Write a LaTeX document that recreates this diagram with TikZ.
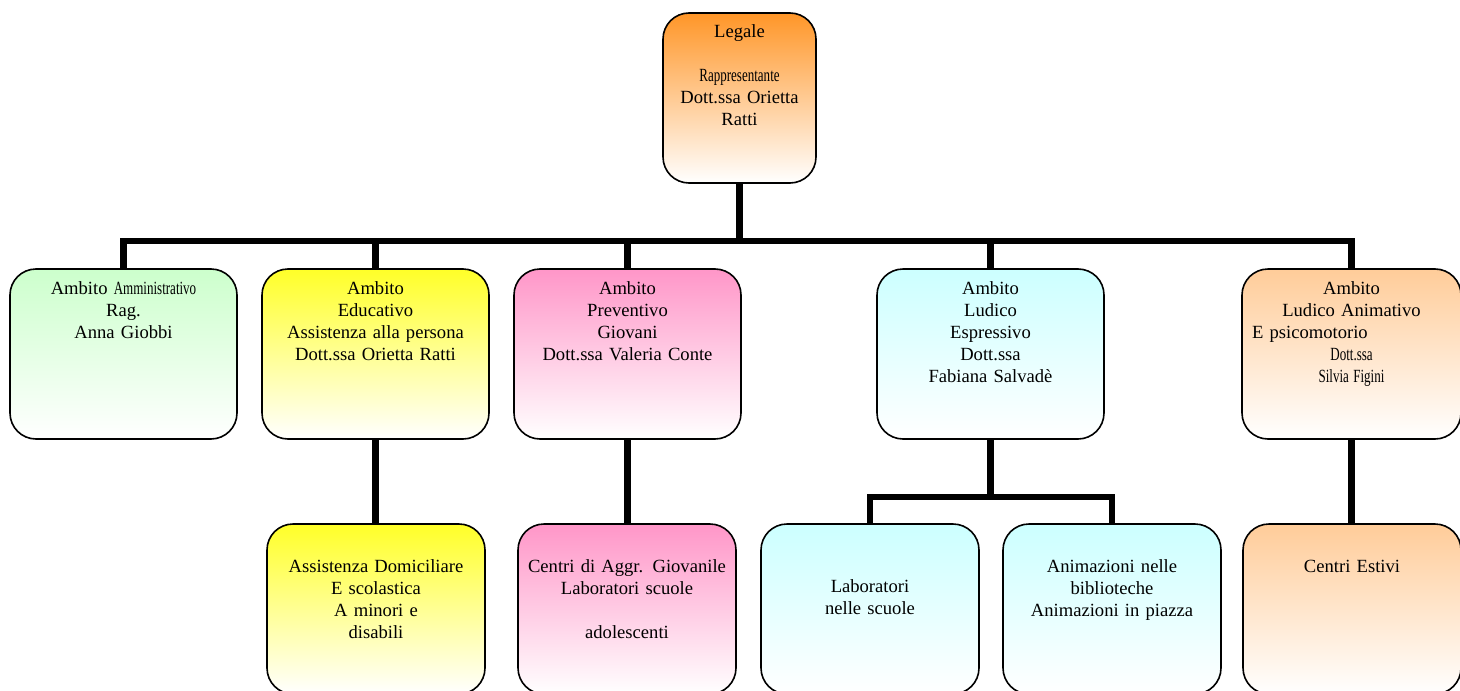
\documentclass[tikz,border=0pt]{standalone}
\usepackage{fontspec}
\setmainfont{Liberation Serif}
\usepackage{graphicx}
\usepackage{tikz}
\usetikzlibrary{positioning, calc}
\definecolor{LegOrange}{RGB}{255, 150, 40}
\definecolor{AmmGreen}{RGB}{204, 255, 204}
\definecolor{EduYellow}{RGB}{255, 255, 40}
\definecolor{PrevPink}{RGB}{255, 150, 200}
\definecolor{LudCyan}{RGB}{204, 255, 255}
\definecolor{AnimPeach}{RGB}{255, 204, 153}
\newcommand{\squeeze}[1]{\scalebox{0.7}[1]{#1}}

\begin{document}
\begin{tikzpicture}[x=0.5pt, y=-0.5pt, font=\fontsize{9.3}{11}\selectfont,
  unit/.style={draw, line width=0.8pt, rounded corners=13pt, align=center,
    inner xsep=3pt, inner ysep=5pt, text width=107.5pt,
    text height=7.5pt, text depth=67.5pt, top color=#1, bottom color=white},
  sub/.style={unit=#1, text width=103pt, text height=19pt, text depth=56pt},
  conn/.style={line width=3.2pt}]
\useasboundingbox (0,0) rectangle (1460,690);
% top
\node[unit=LegOrange, text width=70.5pt] (legale) at (739.5,98)
  {Legale\\[11pt]\squeeze{Rappresentante}\\Dott.ssa Orietta\\Ratti};
% first row
\node[unit=AmmGreen] (amm) at (123.5,354) {Ambito \squeeze{Amministrativo}\\Rag.\\Anna Giobbi};
\node[unit=EduYellow] (edu) at (375.5,354) {Ambito\\Educativo\\Assistenza alla persona\\Dott.ssa Orietta Ratti};
\node[unit=PrevPink] (prev) at (627.5,354) {Ambito\\Preventivo\\Giovani\\Dott.ssa Valeria Conte};
\node[unit=LudCyan] (lud) at (990.5,354) {Ambito\\Ludico\\Espressivo\\Dott.ssa\\Fabiana Salvadè};
\node[unit=AnimPeach, text width=103.5pt] (anim) at (1351.5,354)
  {Ambito\\Ludico Animativo\\\makebox[\linewidth][l]{\hspace*{2pt}E psicomotorio}\\\squeeze{Dott.ssa}\\\squeeze{Silvia Figini}};
% second row
\node[sub=EduYellow] (assist) at (376,609) {Assistenza Domiciliare\\E scolastica\\A minori e\\disabili};
\node[sub=PrevPink] (centri) at (627,609) {Centri di Aggr. Giovanile\\Laboratori scuole\\[11pt]adolescenti};
\node[sub=LudCyan, text height=29pt, text depth=46pt] (labsc) at (870,609) {Laboratori\\nelle scuole};
\node[sub=LudCyan] (bibl) at (1112,609) {Animazioni nelle\\biblioteche\\Animazioni in piazza};
\node[sub=AnimPeach] (estivi) at (1352,609) {Centri Estivi};
% connectors
\draw[conn] (legale.south) -- ++(0,57) coordinate (bus);
\foreach \b in {amm, edu, prev, lud, anim}
  \draw[conn] (bus) -| (\b.north);
\draw[conn] (edu.south) -- (edu.south |- assist.north);
\draw[conn] (prev.south) -- (prev.south |- centri.north);
\draw[conn] (lud.south) -- ++(0,57) coordinate (lbus);
\draw[conn] (labsc.north) |- (lbus) -| (bibl.north);
\draw[conn] (anim.south) -- (anim.south |- estivi.north);
\end{tikzpicture}
\end{document}
